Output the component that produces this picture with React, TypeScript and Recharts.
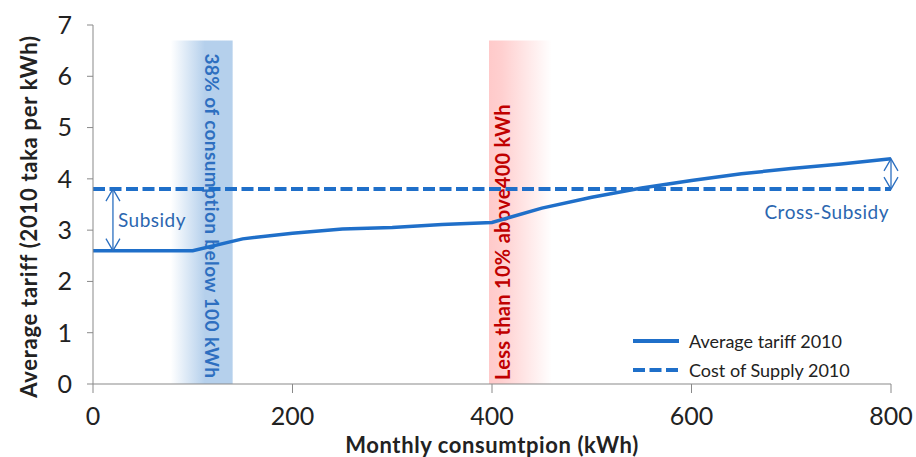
import {
  LineChart, Line, XAxis, YAxis, ReferenceArea, ReferenceLine, Legend
} from "recharts";

// Monthly consumption (kWh) and the average tariff at each step
const consumption = [0, 50, 100, 150, 200, 250, 300, 350, 400, 450, 500, 550, 600, 650, 700, 750, 800];
const avgTariff = [2.6, 2.6, 2.6, 2.83, 2.94, 3.02, 3.05, 3.11, 3.15, 3.43, 3.64, 3.82, 3.97, 4.1, 4.2, 4.29, 4.39];
const costOfSupply = 3.8;

const xTicks = [0, 200, 400, 600, 800];
const yTicks = [0, 1, 2, 3, 4, 5, 6, 7];

// shaded consumption bands [from, to, top]
const lowBand = [78, 140, 6.7];
const highBand = [397, 460, 6.7];

const data = consumption.map((kwh, i) => ({
  kwh,
  tariff: avgTariff[i],
  cost: costOfSupply,
}));

const FONT = "Lato, 'Open Sans', sans-serif";
const BLUE = "#1f6fc9";
const AXIS = "#898989";

function arrowShape(label: string, side: "right" | "left") {
  return (props: any) => {
    const { x1, y1, x2, y2 } = props;
    const top = Math.min(y1, y2);
    const bottom = Math.max(y1, y2);
    const x = x1;
    const c = "#2b6fc0";
    return (
      <g>
        <line x1={x} y1={top} x2={x} y2={bottom} stroke={c} strokeWidth={1.3} />
        <polyline points={`${x - 7},${top + 12} ${x},${top} ${x + 7},${top + 12}`} fill="none" stroke={c} strokeWidth={1.3} />
        <polyline points={`${x - 7},${bottom - 12} ${x},${bottom} ${x + 7},${bottom - 12}`} fill="none" stroke={c} strokeWidth={1.3} />
        {side === "right" ? (
          <text x={x + 5} y={(top + bottom) / 2 + 7} fill="#2b66b0" fontSize={19} letterSpacing={0.5} fontFamily={FONT}>{label}</text>
        ) : (
          <text x={x - 2} y={bottom + 30} textAnchor="end" fill="#2b66b0" fontSize={19} letterSpacing={0.5} fontFamily={FONT}>{label}</text>
        )}
      </g>
    );
  };
}

const LowBandLabel = ({ viewBox }: any) => {
  const x = viewBox.x + viewBox.width * 0.68;
  const y = viewBox.y + 13;
  return (
    <text x={x} y={y} transform={`rotate(90 ${x} ${y})`} fill="#2e6fc0" fontSize={19} fontWeight="bold"
      letterSpacing={0.4} fontFamily={FONT} dominantBaseline="central">
      38% of consumption below 100 kWh
    </text>
  );
};

const HighBandLabel = ({ viewBox }: any) => {
  const x = viewBox.x + 13;
  const y = viewBox.y + viewBox.height - 4;
  return (
    <text x={x} y={y} transform={`rotate(-90 ${x} ${y})`} fill="#c00000" fontSize={20} fontWeight="bold"
      letterSpacing={0.3} fontFamily={FONT} dominantBaseline="central">
      Less than 10% above400 kWh
    </text>
  );
};

const YTitle = ({ viewBox }: any) => {
  const x = 28;
  const y = viewBox.y + viewBox.height / 2 + 12;
  return (
    <text x={x} y={y} transform={`rotate(-90 ${x} ${y})`} textAnchor="middle" dominantBaseline="central"
      fontSize={22} fontWeight="bold" letterSpacing={0.7} fill="#222" fontFamily={FONT}>
      Average tariff  (2010 taka per kWh)
    </text>
  );
};

const LegendBox = () => (
  <div style={{ fontFamily: FONT, fontSize: 18, color: "#222" }}>
    {[
      { name: "Average tariff 2010", dash: undefined },
      { name: "Cost of Supply 2010", dash: "12 4.5" },
    ].map((e) => (
      <div key={e.name} style={{ display: "flex", alignItems: "center", height: 29 }}>
        <svg width={56} height={10}>
          <line x1={0} y1={5} x2={46} y2={5} stroke={BLUE} strokeWidth={4} strokeDasharray={e.dash} />
        </svg>
        <span style={{ whiteSpace: "nowrap" }}>{e.name}</span>
      </div>
    ))}
  </div>
);

export default function App() {
  return (
    <div style={{ position: "absolute", left: 0, top: 0, background: "#fff" }}>
      <LineChart width={916} height={457} data={data} margin={{ top: 25, right: 25, left: 0, bottom: 0 }}>
        <defs>
          <linearGradient id="lowBandFill" x1="0" y1="0" x2="1" y2="0">
            <stop offset="0%" stopColor="#b5d0ec" stopOpacity={0} />
            <stop offset="55%" stopColor="#b5d0ec" stopOpacity={1} />
            <stop offset="100%" stopColor="#b5d0ec" stopOpacity={1} />
          </linearGradient>
          <linearGradient id="highBandFill" x1="0" y1="0" x2="1" y2="0">
            <stop offset="0%" stopColor="#ffcaca" stopOpacity={1} />
            <stop offset="20%" stopColor="#ffcaca" stopOpacity={0.9} />
            <stop offset="100%" stopColor="#ffcaca" stopOpacity={0} />
          </linearGradient>
        </defs>
        <XAxis
          dataKey="kwh"
          type="number"
          domain={[0, 800]}
          ticks={xTicks}
          height={73}
          stroke={AXIS}
          tickSize={9}
          tickMargin={14}
          tick={{ fill: "#222", fontSize: 25, fontFamily: FONT }}
          label={{ value: "Monthly consumtpion (kWh)", position: "insideBottom", offset: 4, fill: "#222", fontSize: 22, fontWeight: "bold", letterSpacing: 0.6, fontFamily: FONT }}
        />
        <YAxis
          domain={[0, 7]}
          ticks={yTicks}
          width={93}
          stroke={AXIS}
          tickSize={6}
          tickMargin={15}
          tick={{ fill: "#222", fontSize: 25, fontFamily: FONT }}
          label={<YTitle />}
        />
        <ReferenceArea x1={lowBand[0]} x2={lowBand[1]} y1={0} y2={lowBand[2]} fill="url(#lowBandFill)" fillOpacity={1}
          stroke="none" label={<LowBandLabel />} />
        <ReferenceArea x1={highBand[0]} x2={highBand[1]} y1={0} y2={highBand[2]} fill="url(#highBandFill)" fillOpacity={1}
          stroke="none" label={<HighBandLabel />} />
        <Line type="linear" dataKey="cost" name="Cost of Supply 2010" stroke={BLUE} strokeWidth={4}
          strokeDasharray="12 4.5" dot={false} isAnimationActive={false} />
        <Line type="linear" dataKey="tariff" name="Average tariff 2010" stroke={BLUE} strokeWidth={3.5}
          dot={false} isAnimationActive={false} />
        <ReferenceLine segment={[{ x: 20, y: costOfSupply }, { x: 20, y: avgTariff[0] }]}
          shape={arrowShape("Subsidy", "right")} />
        <ReferenceLine segment={[{ x: 800, y: avgTariff[avgTariff.length - 1] }, { x: 800, y: costOfSupply }]}
          shape={arrowShape("Cross-Subsidy", "left")} />
        <Legend layout="vertical" align="center" verticalAlign="middle" content={<LegendBox />}
          wrapperStyle={{ position: "absolute", left: 633, top: 326, width: 260 }} />
      </LineChart>
    </div>
  );
}
